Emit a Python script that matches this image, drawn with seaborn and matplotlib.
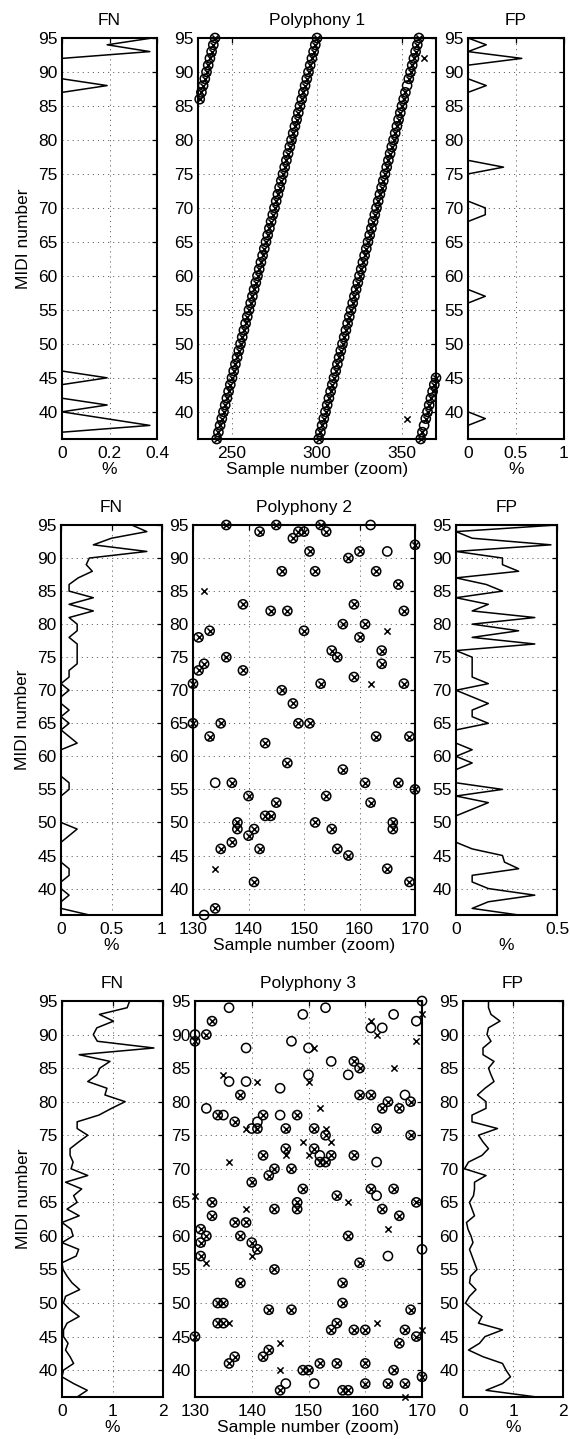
import numpy as np
import pandas as pd
import matplotlib
matplotlib.use("Agg")
import matplotlib.pyplot as plt
import seaborn as sns

# ---------------- data ----------------
midi_axis = list(range(36, 96))   # MIDI note numbers 36..95

# Polyphony 1 : FN / FP rates (%) per MIDI note 36..95
p1_fn = [0, 0, 0.37, 0.185, 0, 0.19, 0, 0, 0, 0.19,
         0, 0, 0, 0, 0, 0, 0, 0, 0, 0,
         0, 0, 0, 0, 0, 0, 0, 0, 0, 0,
         0, 0, 0, 0, 0, 0, 0, 0, 0, 0,
         0, 0, 0, 0, 0, 0, 0, 0, 0, 0,
         0, 0, 0.19, 0, 0, 0, 0, 0.37, 0.19, 0.38]
p1_fp = [0, 0, 0, 0.18, 0, 0, 0, 0, 0, 0,
         0, 0, 0, 0, 0, 0, 0, 0, 0, 0,
         0, 0.18, 0, 0, 0, 0, 0, 0, 0, 0,
         0, 0, 0, 0.18, 0.18, 0, 0, 0, 0, 0,
         0.37, 0, 0, 0, 0, 0, 0, 0, 0, 0,
         0, 0, 0.19, 0, 0, 0, 0.56, 0, 0.19, 0]

# Polyphony 1 : zoomed piano-roll (chromatic sweeps), one note per sample 231..370
p1_samples = list(range(231, 371))
p1_notes = [86, 87, 88, 89, 90, 91, 92, 93, 94, 95,
            36, 37, 38, 39, 40, 41, 42, 43, 44, 45,
            46, 47, 48, 49, 50, 51, 52, 53, 54, 55,
            56, 57, 58, 59, 60, 61, 62, 63, 64, 65,
            66, 67, 68, 69, 70, 71, 72, 73, 74, 75,
            76, 77, 78, 79, 80, 81, 82, 83, 84, 85,
            86, 87, 88, 89, 90, 91, 92, 93, 94, 95,
            36, 37, 38, 39, 40, 41, 42, 43, 44, 45,
            46, 47, 48, 49, 50, 51, 52, 53, 54, 55,
            56, 57, 58, 59, 60, 61, 62, 63, 64, 65,
            66, 67, 68, 69, 70, 71, 72, 73, 74, 75,
            76, 77, 78, 79, 80, 81, 82, 83, 84, 85,
            86, 87, 88, 89, 90, 91, 92, 93, 94, 95,
            36, 37, 38, 39, 40, 41, 42, 43, 44, 45]
p1_missed = [(353, 88), (363, 38)]          # reference only (circle)
p1_false = [(353, 39), (363, 92)]           # detection only (cross)

# Polyphony 2
p2_fn = [0.28, 0, 0, 0.08, 0, 0, 0.08, 0.08, 0, 0,
         0, 0, 0.08, 0.16, 0, 0, 0, 0, 0, 0.08,
         0.08, 0, 0, 0, 0, 0, 0.16, 0.08, 0, 0.08,
         0, 0.08, 0, 0, 0.08, 0, 0.08, 0.08, 0.16, 0.16,
         0.16, 0.16, 0.08, 0.16, 0.16, 0.08, 0.32, 0.08, 0.32, 0.08,
         0.08, 0.17, 0.31, 0.25, 0.28, 0.85, 0.32, 0.50, 0.85, 0.70]
p2_fp = [0.31, 0.08, 0.16, 0.39, 0.16, 0.08, 0.08, 0.31, 0.24, 0.23,
         0.08, 0, 0, 0, 0, 0, 0.08, 0.16, 0, 0.23,
         0, 0, 0, 0.08, 0, 0.08, 0, 0, 0, 0.16,
         0.08, 0.08, 0.16, 0.08, 0, 0.16, 0.08, 0.08, 0.08, 0.08,
         0, 0.39, 0.08, 0.31, 0.08, 0.39, 0.08, 0.16, 0, 0.23,
         0.15, 0, 0.31, 0.23, 0.23, 0, 0.47, 0.08, 0, 0.5]
p2_hit = [(136, 95), (145, 95), (153, 95), (142, 94), (149, 94), (150, 94), (154, 94),
          (148, 93), (170, 92), (151, 91), (160, 91), (158, 90), (146, 88), (152, 88),
          (163, 88), (167, 86), (139, 83), (159, 83), (144, 82), (147, 82), (168, 82),
          (157, 80), (161, 80), (133, 79), (150, 79), (131, 78), (160, 78), (155, 76),
          (164, 76), (136, 75), (156, 75), (132, 74), (164, 74), (131, 73), (139, 73),
          (159, 72), (130, 71), (153, 71), (168, 71), (146, 70), (148, 68), (130, 65),
          (135, 65), (149, 65), (151, 65), (133, 63), (163, 63), (169, 63), (143, 62),
          (147, 59), (157, 58), (137, 56), (161, 56), (167, 56), (170, 55), (140, 54),
          (154, 54), (145, 53), (162, 53), (143, 51), (144, 51), (138, 50), (152, 50),
          (166, 50), (138, 49), (141, 49), (155, 49), (166, 49), (140, 48), (137, 47),
          (135, 46), (142, 46), (156, 46), (158, 45), (165, 43), (141, 41), (169, 41),
          (134, 37)]
p2_missed = [(162, 95), (165, 91), (134, 56), (132, 36)]
p2_false = [(132, 85), (165, 79), (162, 71), (134, 43)]

# Polyphony 3
p3_fn = [0.30, 0.50, 0.23, 0, 0.03, 0.23, 0.16, 0.07, 0.12, 0.03,
         0.03, 0.10, 0.34, 0.16, 0.03, 0.07, 0.35, 0.20, 0.10, 0.02,
         0, 0.28, 0.33, 0, 0.22, 0.18, 0, 0.34, 0.10, 0.30,
         0.23, 0.39, 0.07, 0.51, 0.18, 0.22, 0.16, 0.16, 0.33, 0.51,
         0.30, 0.30, 0.73, 0.98, 1.25, 0.85, 0.89, 0.51, 0.69, 0.75,
         0.95, 0.34, 1.82, 0.70, 0.62, 0.69, 1.02, 0.74, 1.29, 1.34]
p3_fp = [1.47, 0.46, 0.79, 0.95, 0.86, 0.79, 0.40, 0.11, 0.33, 0.44,
         0.79, 0.31, 0.38, 0.20, 0.05, 0.13, 0.26, 0.13, 0.15, 0.28,
         0.23, 0.18, 0.13, 0.20, 0.16, 0.10, 0.07, 0.23, 0.18, 0.13,
         0.21, 0.23, 0.23, 0.46, 0.03, 0.11, 0.38, 0.51, 0.40, 0.31,
         0.69, 0.18, 0.18, 0.46, 0.46, 0.29, 0.44, 0.62, 0.56, 0.51,
         0.62, 0.40, 0.40, 0.56, 0.48, 0.51, 0.74, 0.56, 0.51, 0.51]
p3_hit = [(133, 92), (130, 89), (132, 90), (138, 81), (134, 78), (142, 78), (137, 77),
          (141, 76), (146, 76), (142, 72), (146, 73), (144, 70), (143, 69), (140, 68),
          (133, 65), (158, 86), (159, 85), (159, 81), (161, 81), (164, 80), (163, 79),
          (166, 79), (168, 80), (148, 78), (151, 76), (153, 75), (162, 76), (168, 75),
          (151, 73), (154, 72), (152, 71), (153, 71), (158, 72), (147, 70), (149, 67),
          (161, 67), (165, 67), (155, 66), (148, 65), (133, 63), (144, 64), (131, 61),
          (132, 60), (131, 59), (131, 57), (137, 62), (139, 62), (138, 60), (140, 59),
          (141, 58), (144, 55), (138, 53), (134, 50), (135, 50), (134, 47), (135, 47),
          (130, 45), (143, 49), (147, 49), (136, 41), (137, 42), (142, 42), (143, 43),
          (145, 37), (148, 64), (163, 64), (166, 63), (169, 65), (157, 60), (159, 56),
          (156, 53), (156, 50), (168, 49), (155, 47), (154, 46), (158, 46), (160, 46),
          (167, 46), (169, 45), (166, 44), (149, 40), (150, 40), (152, 41), (155, 41),
          (160, 41), (165, 40), (160, 38), (164, 38), (167, 38), (170, 39), (156, 37),
          (157, 37)]
p3_missed = [(136, 94), (130, 90), (139, 88), (136, 83), (139, 83), (145, 82), (132, 79),
             (135, 78), (145, 78), (141, 77), (140, 76), (147, 89), (170, 95), (149, 93),
             (153, 94), (165, 93), (169, 92), (161, 91), (163, 91), (150, 88), (154, 86),
             (157, 84), (150, 84), (167, 81), (152, 72), (162, 71), (162, 66), (170, 58),
             (164, 57), (146, 38), (151, 38)]
p3_false = [(135, 84), (141, 83), (139, 76), (136, 71), (146, 72), (130, 66), (170, 93),
            (161, 92), (162, 90), (169, 89), (151, 88), (165, 85), (150, 83), (152, 79),
            (153, 76), (154, 74), (149, 74), (150, 72), (139, 64), (132, 56), (140, 57),
            (136, 47), (145, 44), (145, 40), (157, 65), (164, 61), (162, 47), (170, 46),
            (167, 36)]

titles = ["Polyphony 1", "Polyphony 2", "Polyphony 3"]
fn_xlim = [(0, 0.4), (0, 1), (0, 2)]
fn_xticks = [[0, 0.2, 0.4], [0, 0.5, 1], [0, 1, 2]]
fp_xlim = [(0, 1), (0, 0.5), (0, 2)]
fp_xticks = [[0, 0.5, 1], [0, 0.5], [0, 1, 2]]
main_xlim = [(230, 370), (130, 170), (130, 170)]
main_xticks = [[250, 300, 350], [130, 140, 150, 160, 170], [130, 140, 150, 160, 170]]

# ---------------- build point tables ----------------
p1_hit = [(s, m) for s, m in zip(p1_samples, p1_notes) if (s, m) not in p1_missed]
hits = [p1_hit, p2_hit, p3_hit]
misses = [p1_missed, p2_missed, p3_missed]
falses = [p1_false, p2_false, p3_false]
fns = [p1_fn, p2_fn, p3_fn]
fps = [p1_fp, p2_fp, p3_fp]

# ---------------- figure ----------------
sns.set_style("white")
plt.rcParams['font.family'] = ['Liberation Sans', 'DejaVu Sans']
plt.rcParams['axes.unicode_minus'] = False
for k in ['text.color', 'axes.labelcolor', 'xtick.color', 'ytick.color', 'axes.edgecolor']:
    plt.rcParams[k] = 'black'

W, H = 570, 1439
fig = plt.figure(figsize=(W / 100, H / 100), dpi=100)
fig.patch.set_facecolor('white')

rows = [
    (38, 439, [(62, 157), (198, 436), (468, 564)]),
    (525, 915, [(61, 162), (193, 415), (456, 557)]),
    (1001, 1397, [(62, 163), (195, 422), (463, 563)]),
]

FS = 12.5


def px_axes(l, r, t, b):
    return fig.add_axes([l / W, 1 - b / H, (r - l) / W, (b - t) / H])


def fmt(v):
    return "%g" % v


def style(ax, xlim, xticks):
    ax.set_xlim(xlim)
    ax.set_ylim(36, 95)
    ax.set_xticks(xticks)
    ax.set_xticklabels([fmt(v) for v in xticks])
    ax.set_yticks(list(range(40, 96, 5)))
    ax.tick_params(direction='in', length=3.5, width=0.9, top=True, right=True,
                   labelsize=FS, colors='black')
    ax.tick_params(axis='x', pad=5)
    ax.tick_params(axis='y', pad=3)
    ax.grid(True, linestyle=(0, (1.2, 4)), color='0.4', linewidth=0.7)
    ax.set_axisbelow(True)
    for sp in ax.spines.values():
        sp.set_linewidth(1.5)
        sp.set_color('black')
        sp.set_visible(True)
    ax.set_facecolor('white')


for i, (top, bot, cols) in enumerate(rows):
    ax_fn = px_axes(cols[0][0], cols[0][1], top, bot)
    ax_m = px_axes(cols[1][0], cols[1][1], top, bot)
    ax_fp = px_axes(cols[2][0], cols[2][1], top, bot)

    # FN profile
    sns.lineplot(x=fns[i], y=midi_axis, sort=False, estimator=None, color='black',
                 linewidth=1.1, ax=ax_fn)
    style(ax_fn, fn_xlim[i], fn_xticks[i])
    ax_fn.set_title("FN", fontsize=FS, pad=9.5, color='black')
    ax_fn.set_xlabel("%", fontsize=FS, labelpad=0.5)
    ax_fn.set_ylabel("MIDI number", fontsize=FS, labelpad=5)

    # FP profile
    sns.lineplot(x=fps[i], y=midi_axis, sort=False, estimator=None, color='black',
                 linewidth=1.1, ax=ax_fp)
    style(ax_fp, fp_xlim[i], fp_xticks[i])
    ax_fp.set_title("FP", fontsize=FS, pad=9.5, color='black')
    ax_fp.set_xlabel("%", fontsize=FS, labelpad=0.5)
    ax_fp.set_ylabel("")

    # piano roll
    ref = pd.DataFrame(hits[i] + misses[i], columns=["sample", "midi"])
    det = pd.DataFrame(hits[i] + falses[i], columns=["sample", "midi"])
    sns.scatterplot(data=ref, x="sample", y="midi", marker='o', s=44,
                    facecolors='none', edgecolor='black', linewidth=1.1,
                    ax=ax_m, clip_on=False, zorder=3)
    sns.scatterplot(data=det, x="sample", y="midi", marker='x', s=20,
                    color='black', linewidth=1.1, ax=ax_m, clip_on=False, zorder=4)
    style(ax_m, main_xlim[i], main_xticks[i])
    ax_m.set_title(titles[i], fontsize=FS, pad=9.5, color='black')
    ax_m.set_xlabel("Sample number (zoom)", fontsize=FS, labelpad=0.5)
    ax_m.set_ylabel("")

fig.savefig("out.png", dpi=100, facecolor='white')
